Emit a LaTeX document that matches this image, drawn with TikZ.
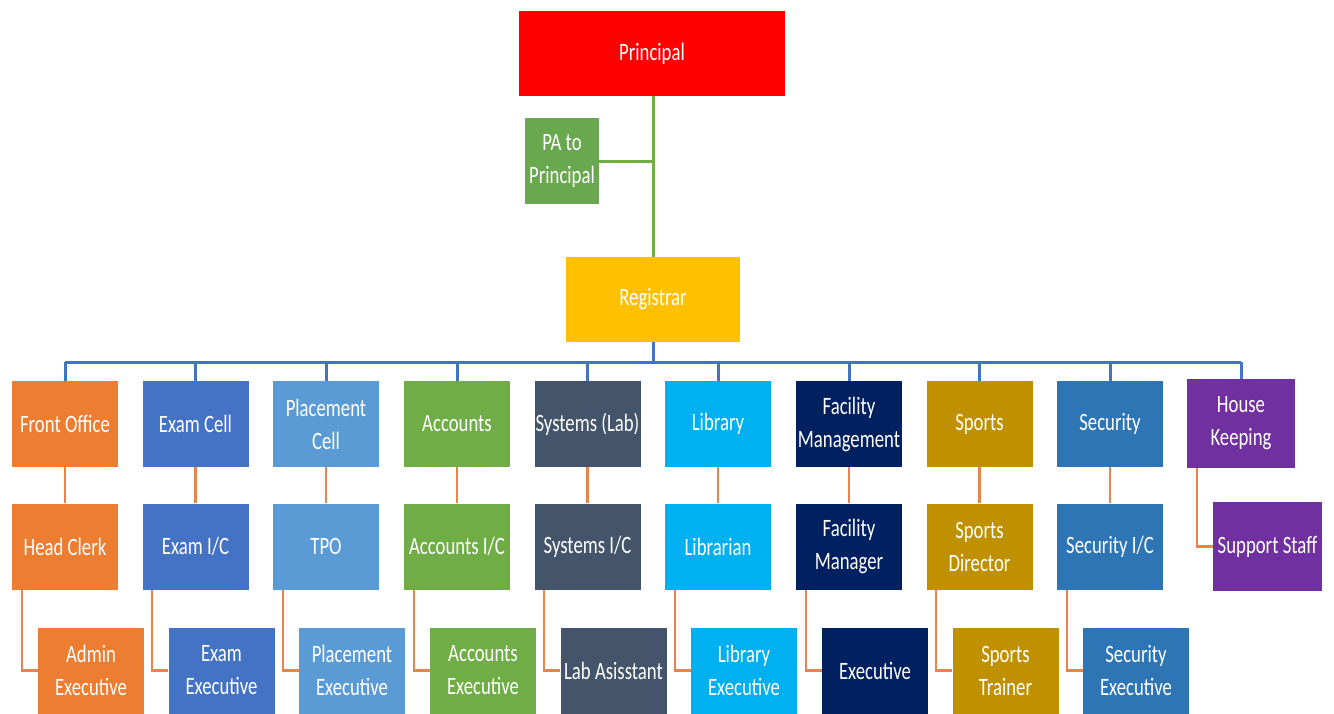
\documentclass[tikz,border=0pt]{standalone}
\usepackage{fontspec}
\setmainfont[FakeStretch=0.75]{Carlito}
\definecolor{cRed}{HTML}{FF0000}
\definecolor{cPA}{HTML}{6AA84F}
\definecolor{cReg}{HTML}{FFC000}
\definecolor{cOrg}{HTML}{ED7D31}
\definecolor{cExam}{HTML}{4472C4}
\definecolor{cPlac}{HTML}{5B9BD5}
\definecolor{cAcc}{HTML}{70AD47}
\definecolor{cSys}{HTML}{44546A}
\definecolor{cLib}{HTML}{00B0F0}
\definecolor{cFac}{HTML}{002060}
\definecolor{cSpo}{HTML}{BF9000}
\definecolor{cSec}{HTML}{2E75B6}
\definecolor{cHK}{HTML}{7030A0}
\definecolor{cLine}{HTML}{E8834A}
\definecolor{cBus}{HTML}{4472C4}
\definecolor{cGrn}{HTML}{70AD47}
\begin{document}
\begin{tikzpicture}[x=1pt,y=-1pt,
  box/.style={draw=none,fill=#1,text=white,align=center,minimum width=106pt,minimum height=86pt,inner sep=0pt,font=\fontsize{25}{33}\selectfont},
  orgline/.style={draw=cLine,line width=2.2pt},
  busline/.style={draw=cBus,line width=3pt},
  grnline/.style={draw=cGrn,line width=3pt}]
\useasboundingbox (0,0) rectangle (1334,713);
% top
\node[box=cRed,minimum width=266pt,minimum height=85pt] (pri) at (652,53.5) {Principal};
\node[box=cPA,minimum width=74pt,minimum height=86pt] (pa) at (562,161) {PA to\\Principal};
\node[box=cReg,minimum width=174pt,minimum height=85pt] (reg) at (653,299.5) {Registrar};
\draw[grnline] (653,96) -- (653,257);
\draw[grnline] (pa.east) -- (653,161);
% level 1
\node[box=cOrg]  (fo)  at (65,424)    {Front Office};
\node[box=cExam] (ec)  at (195.5,424) {Exam Cell};
\node[box=cPlac] (pc)  at (326,424)   {Placement\\Cell};
\node[box=cAcc]  (acc) at (457,424)   {Accounts};
\node[box=cSys]  (sys) at (587.5,424) {Systems (Lab)};
\node[box=cLib]  (lib) at (718,424)   {Library};
\node[box=cFac]  (fac) at (849,424)   {Facility\\Management};
\node[box=cSpo]  (spo) at (979.5,424) {Sports};
\node[box=cSec]  (sec) at (1110,424)  {Security};
\node[box=cHK,minimum width=108pt,minimum height=89pt] (hk) at (1241,423.5) {House\\Keeping};
% level 2
\node[box=cOrg]  (hc)   at (65,546.5)    {Head Clerk};
\node[box=cExam] (eic)  at (195.5,546.5) {Exam I/C};
\node[box=cPlac] (tpo)  at (326,546.5)   {TPO};
\node[box=cAcc]  (aic)  at (457,546.5)   {Accounts I/C};
\node[box=cSys]  (sic)  at (587.5,546.5) {Systems I/C};
\node[box=cLib]  (lbn)  at (718,546.5)   {Librarian};
\node[box=cFac]  (fm)   at (849,546.5)   {Facility\\Manager};
\node[box=cSpo]  (sd)   at (979.5,546.5) {Sports\\Director};
\node[box=cSec]  (secic) at (1110,546.5) {Security I/C};
\node[box=cHK,minimum width=109pt,minimum height=89pt] (ss) at (1267.5,546.5) {Support Staff};
% level 3
\node[box=cOrg]  (ae)  at (91,670.5)    {Admin\\Executive};
\node[box=cExam] (ee)  at (221.5,670.5) {Exam\\Executive};
\node[box=cPlac] (pe)  at (352,670.5)   {Placement\\Executive};
\node[box=cAcc]  (ace) at (483,670.5)   {Accounts\\Executive};
\node[box=cSys]  (la)  at (613.5,670.5) {Lab Asisstant};
\node[box=cLib]  (le)  at (744,670.5)   {Library\\Executive};
\node[box=cFac]  (fe)  at (875,670.5)   {Executive};
\node[box=cSpo]  (st)  at (1005.5,670.5) {Sports\\Trainer};
\node[box=cSec]  (se)  at (1136,670.5)  {Security\\Executive};
% bus
\coordinate (bus) at (653,362);
\draw[busline] (reg.south) -- (bus);
\draw[busline] (fo.north |- bus) -- (hk.north |- bus);
\foreach \n in {fo,ec,pc,acc,sys,lib,fac,spo,sec,hk}
  \draw[busline] (\n.north |- bus) -- (\n.north);
% level1 -> level2
\foreach \a/\b in {fo/hc,ec/eic,pc/tpo,acc/aic,sys/sic,lib/lbn,fac/fm,spo/sd,sec/secic}
  \draw[orgline] (\a.south) -- (\b.north);
% level2 -> level3
\foreach \a/\b in {hc/ae,eic/ee,tpo/pe,aic/ace,sic/la,lbn/le,fm/fe,sd/st,secic/se}
  \draw[orgline] ([xshift=10pt]\a.south west) |- (\b.west);
\draw[orgline] ([xshift=10pt]hk.south west) |- (ss.west);
\end{tikzpicture}
\end{document}
